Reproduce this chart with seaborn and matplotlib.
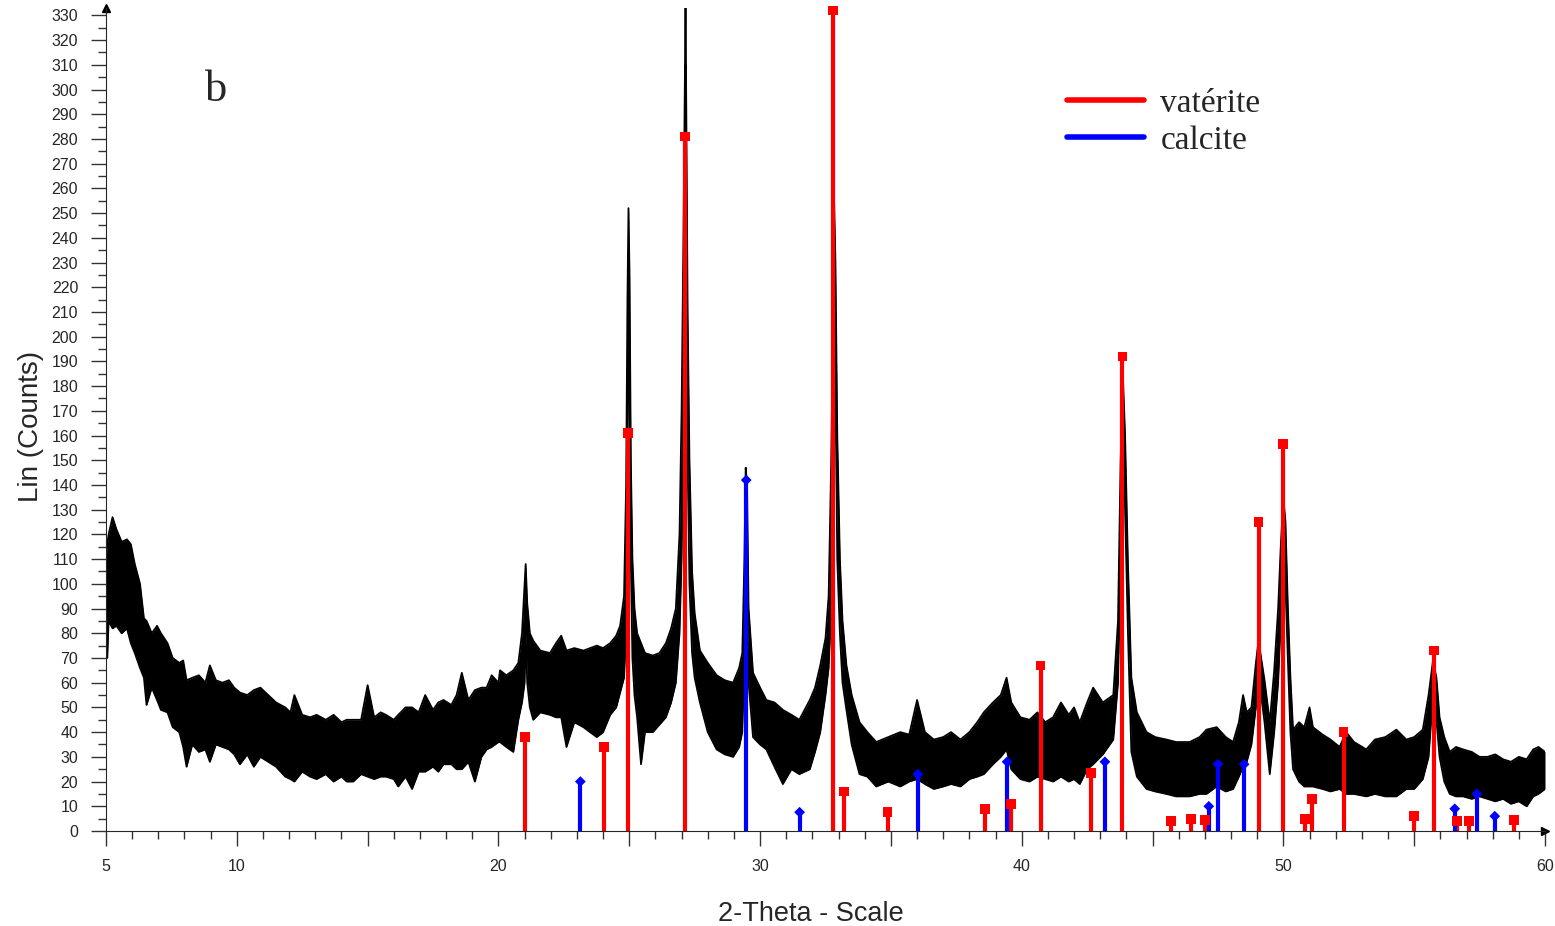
import numpy as np
import pandas as pd
import seaborn as sns
import matplotlib.pyplot as plt
from matplotlib.lines import Line2D
from matplotlib.ticker import MultipleLocator, FuncFormatter

# measured pattern, read as lower / upper edge of the noisy trace
theta = [5.00, 5.05, 5.10, 5.25, 5.40, 5.60, 5.80, 5.95, 6.10, 6.30, 6.45, 6.55, 6.75, 6.95,
         7.10, 7.35, 7.55, 7.80, 7.95, 8.08, 8.30, 8.55, 8.80, 8.97, 9.20, 9.45, 9.70, 9.90,
         10.12, 10.40, 10.65, 10.90, 11.20, 11.50, 11.85, 12.05, 12.20, 12.50, 12.80, 13.05,
         13.40, 13.70, 14.00, 14.20, 14.45, 14.75, 15.00, 15.25, 15.50, 15.70, 16.00, 16.17,
         16.45, 16.70, 16.95, 17.20, 17.50, 17.70, 17.90, 18.20, 18.40, 18.60, 18.85, 19.10,
         19.35, 19.55, 19.74, 20.00, 20.06, 20.30, 20.57, 20.76, 20.90, 21.00, 21.04, 21.10,
         21.20, 21.33, 21.60, 21.97, 22.20, 22.40, 22.60, 22.90, 23.25, 23.50, 23.76, 24.00,
         24.27, 24.50, 24.65, 24.80, 24.88, 24.93, 24.97, 25.01, 25.06, 25.12, 25.20, 25.30,
         25.45, 25.60, 25.90, 26.15, 26.40, 26.60, 26.78, 26.92, 27.00, 27.07, 27.12, 27.15,
         27.18, 27.23, 27.30, 27.40, 27.50, 27.70, 28.00, 28.34, 28.65, 28.97, 29.20, 29.32,
         29.40, 29.45, 29.50, 29.56, 29.73, 30.00, 30.24, 30.55, 30.87, 31.20, 31.50, 31.90,
         32.10, 32.30, 32.50, 32.62, 32.72, 32.78, 32.83, 32.88, 32.95, 33.05, 33.15, 33.30,
         33.50, 33.80, 34.10, 34.44, 34.90, 35.36, 35.70, 36.00, 36.30, 36.64, 37.00, 37.30,
         37.66, 38.00, 38.30, 38.55, 38.90, 39.20, 39.42, 39.60, 39.95, 40.30, 40.60, 40.90,
         41.20, 41.50, 41.80, 42.00, 42.22, 42.50, 42.73, 43.10, 43.50, 43.68, 43.78, 43.87,
         43.95, 44.06, 44.19, 44.40, 44.77, 45.10, 45.53, 45.90, 46.42, 46.80, 47.06, 47.45,
         47.80, 48.08, 48.30, 48.46, 48.60, 48.78, 48.95, 49.05, 49.15, 49.28, 49.48, 49.65,
         49.80, 49.90, 50.00, 50.08, 50.17, 50.27, 50.37, 50.60, 50.80, 51.00, 51.13, 51.50,
         51.80, 52.15, 52.40, 52.70, 53.17, 53.50, 53.90, 54.32, 54.70, 55.00, 55.33, 55.55,
         55.72, 55.85, 55.97, 56.15, 56.36, 56.60, 56.87, 57.20, 57.50, 57.80, 58.10, 58.40,
         58.70, 59.00, 59.30, 59.55, 59.75, 60.00]
lin_low = [100, 70, 85, 82, 83, 80, 82, 76, 72, 66, 62, 51, 58, 53,
           49, 48, 42, 40, 34, 26, 35, 32, 33, 28, 35, 34, 33, 31,
           27, 31, 26, 30, 28, 26, 22, 21, 20, 24, 22, 21,
           23, 20, 22, 20, 20, 23, 22, 21, 22, 22, 21, 18,
           22, 17, 24, 24, 26, 24, 27, 27, 25, 25, 28, 20,
           30, 33, 34, 36, 36, 34, 32, 45, 52, 60, 80, 60,
           50, 45, 48, 47, 46, 46, 34, 44, 42, 40, 38, 40,
           47, 50, 56, 62, 80, 140, 235, 180, 110, 70, 55, 46,
           27, 40, 40, 43, 46, 52, 60, 80, 110, 170, 240, 310,
           230, 150, 100, 72, 62, 52, 40, 33, 31, 30, 34, 40,
           70, 120, 100, 60, 38, 35, 33, 26, 19, 25, 23, 25,
           32, 40, 55, 66, 90, 150, 220, 180, 110, 80, 60, 49,
           35, 23, 22, 18, 20, 18, 20, 21, 19, 17, 18, 19,
           18, 21, 22, 23, 27, 30, 33, 25, 21, 20, 22, 21,
           20, 22, 20, 21, 19, 25, 27, 31, 37, 60, 110, 170,
           130, 80, 32, 22, 17, 16, 15, 14, 14, 15, 15, 18,
           16, 17, 22, 26, 28, 35, 50, 60, 55, 44, 23, 40,
           60, 85, 115, 100, 70, 40, 25, 20, 18, 18, 18, 17,
           16, 17, 15, 15, 14, 15, 14, 14, 17, 17, 21, 30,
           55, 45, 30, 20, 15, 14, 14, 13, 14, 13, 12, 13,
           11, 12, 10, 14, 15, 17]
lin_high = [110, 116, 120, 127, 122, 117, 118, 116, 108, 100, 86, 85, 80, 83,
            80, 76, 70, 68, 69, 61, 62, 63, 60, 67, 61, 60, 61, 58,
            56, 55, 57, 58, 55, 52, 50, 48, 55, 47, 46, 47,
            45, 47, 44, 45, 45, 45, 59, 46, 48, 47, 45, 47,
            50, 50, 48, 55, 49, 52, 53, 51, 55, 64, 53, 57,
            58, 58, 63, 60, 65, 63, 65, 68, 80, 100, 108, 92,
            80, 77, 73, 72, 76, 79, 73, 74, 73, 74, 75, 74,
            76, 79, 83, 95, 140, 215, 252, 225, 150, 110, 90, 80,
            76, 72, 71, 72, 76, 82, 90, 120, 170, 240, 300, 333,
            290, 210, 150, 105, 88, 73, 68, 63, 61, 60, 66, 72,
            110, 147, 140, 90, 64, 58, 53, 52, 49, 47, 45, 53,
            58, 67, 78, 95, 150, 200, 255, 230, 160, 110, 85, 67,
            55, 44, 40, 36, 38, 40, 39, 53, 40, 37, 38, 40,
            37, 40, 44, 48, 52, 55, 62, 52, 46, 45, 48, 44,
            46, 52, 47, 50, 44, 52, 58, 52, 55, 85, 150, 183,
            160, 108, 62, 48, 40, 38, 37, 36, 36, 38, 41, 42,
            38, 36, 44, 55, 48, 50, 68, 77, 70, 61, 44, 65,
            90, 115, 135, 125, 91, 62, 41, 44, 42, 50, 42, 39,
            37, 34, 40, 36, 33, 37, 38, 41, 37, 38, 41, 55,
            69, 62, 46, 38, 32, 34, 33, 32, 30, 30, 31, 29,
            28, 30, 29, 33, 34, 32]

# reference sticks
vaterite_pos = [21.0, 24.02, 24.95, 27.13, 32.8, 33.2, 34.87, 38.61, 39.6, 40.72, 42.65,
                43.85, 45.72, 46.47, 47.0, 49.05, 50.0, 50.82, 51.1, 52.3, 55.0, 55.75,
                56.65, 57.1, 58.8]
vaterite_int = [38, 34, 161, 281, 332, 16, 7.7, 9, 11, 67, 23.5,
                192, 4, 5, 4.5, 125, 156.5, 5, 13, 40, 6, 73,
                4, 4, 4.5]
calcite_pos = [23.13, 29.47, 31.51, 36.03, 39.44, 43.18, 47.15, 47.5, 48.5, 56.55, 57.4, 58.08]
calcite_int = [20, 142, 7.6, 23, 28, 28, 10, 27, 27, 9, 15, 6]

sns.set_style("ticks")
plt.rcParams['font.family'] = ['Liberation Sans', 'DejaVu Sans']

fig = plt.figure(figsize=(15.55, 9.26), dpi=100)
ax = fig.add_axes([106 / 1555, 1 - 831 / 926, 1439 / 1555, 823 / 926])

trace = pd.DataFrame({'theta': theta, 'low': lin_low, 'high': lin_high})
ax.fill_between(trace['theta'], trace['low'], trace['high'], color='black', lw=0, zorder=2)
sns.lineplot(data=trace, x='theta', y='high', color='black', lw=1.3, ax=ax,
             estimator=None, sort=False, zorder=2)
sns.lineplot(data=trace, x='theta', y='low', color='black', lw=1.3, ax=ax,
             estimator=None, sort=False, zorder=2)

# sticks with markers on top
ax.vlines(vaterite_pos, 0, vaterite_int, color='#ff0000', lw=3, zorder=3)
ax.vlines(calcite_pos, 0, calcite_int, color='#0000ff', lw=3, zorder=3)
sns.scatterplot(x=vaterite_pos, y=vaterite_int, marker='s', color='#ff0000', s=50,
                edgecolor='none', ax=ax, zorder=4, clip_on=False)
sns.scatterplot(x=calcite_pos, y=calcite_int, marker='D', color='#0000ff', s=30,
                edgecolor='none', ax=ax, zorder=4, clip_on=False)

ax.set_xlim(5, 60)
ax.set_ylim(0, 333)
sns.despine(ax=ax)

ax.xaxis.set_major_locator(MultipleLocator(5))
ax.xaxis.set_minor_locator(MultipleLocator(1))
ax.xaxis.set_major_formatter(FuncFormatter(
    lambda v, p: '' if int(round(v)) % 10 == 5 and int(round(v)) != 5 else '%d' % v))
ax.yaxis.set_major_locator(MultipleLocator(10))
ax.yaxis.set_minor_locator(MultipleLocator(5))
ax.set_yticks(np.arange(0, 331, 10))
ax.tick_params(axis='both', which='major', length=11, width=1, color='#333333',
               labelsize=11.5, pad=9)
ax.tick_params(axis='both', which='minor', length=6, width=1, color='#333333')

ax.set_xlabel('2-Theta - Scale', fontsize=19.5)
ax.set_ylabel('Lin (Counts)', fontsize=20)
ax.xaxis.set_label_coords(0.49, -0.085)
ax.yaxis.set_label_coords(-0.043, 0.492)

# axis arrows
ax.plot([0], [1], marker='^', color='black', ms=6, transform=ax.transAxes, clip_on=False)
ax.plot([1], [0], marker='>', color='black', ms=6, transform=ax.transAxes, clip_on=False)

ax.text(9.2, 300, 'b', family='Liberation Serif', fontsize=32, va='center', ha='center')

handles = [Line2D([], [], color='#ff0000', lw=4), Line2D([], [], color='#0000ff', lw=4)]
ax.legend(handles, ['vatérite', 'calcite'], loc='upper left', bbox_to_anchor=(0.647, 0.939),
          frameon=False, prop={'family': 'Liberation Serif', 'size': 24},
          handlelength=2.3, handletextpad=0.5, labelspacing=0.2)

fig.savefig('out.png', dpi=100)
